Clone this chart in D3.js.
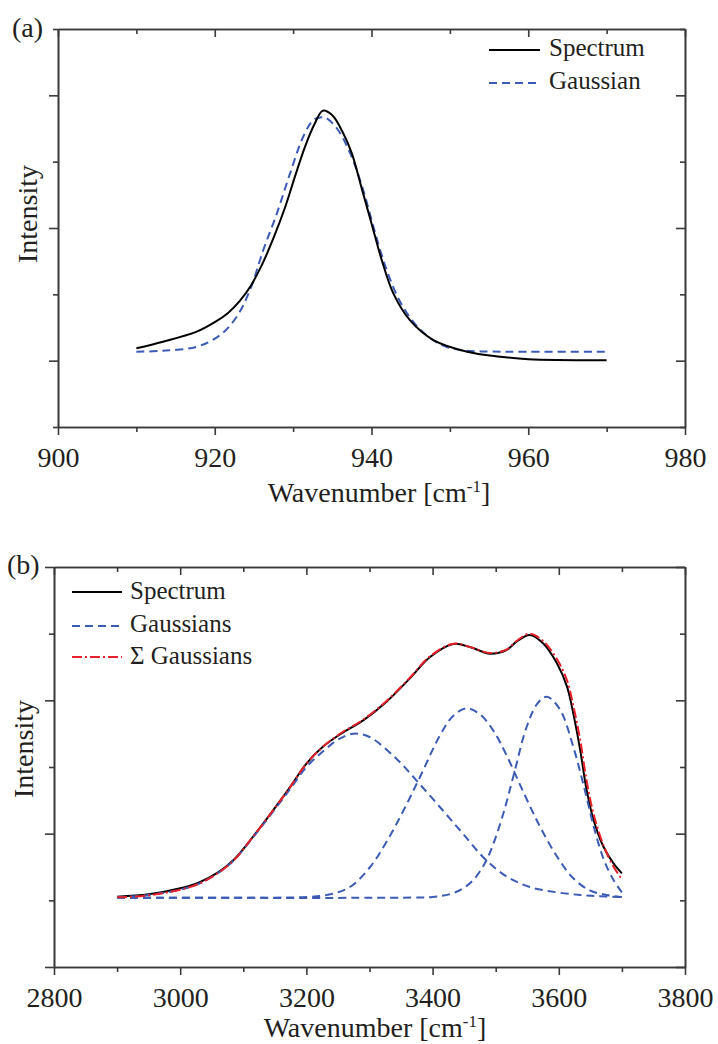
<!DOCTYPE html>
<html><head><meta charset="utf-8">
<script src="https://cdn.jsdelivr.net/npm/d3@7"></script>
<style>html,body{margin:0;padding:0;background:#fff;}svg{display:block;} svg text{font-family:"Liberation Serif","Times New Roman",Times,serif !important;}</style>
</head><body>
<svg id="chart" width="718" height="1044"></svg>
<script>
// ---------- Panel (a) data ----------
const aSpecX = [910, 913.4, 917.7, 920.0, 921.7, 923.2, 924.6, 926.0, 927.5, 929.0, 930.3, 931.5, 932.7, 933.8, 935.0, 936.3, 937.5, 938.7, 940.0, 941.3, 942.8, 944.9, 947.9, 952.2, 956.4, 960, 970];
const aSpecY = [1.187, 1.286, 1.437, 1.58, 1.72, 1.90, 2.13, 2.44, 2.85, 3.32, 3.80, 4.22, 4.56, 4.77, 4.70, 4.45, 4.12, 3.62, 3.07, 2.52, 2.01, 1.61, 1.31, 1.135, 1.06, 1.02, 1.005];
const aGaussX = [910, 913.4, 917.7, 920.7, 922.8, 924.5, 926.2, 927.9, 929.6, 931.3, 932.6, 933.6, 934.2, 935.6, 937.3, 939.0, 940.4, 941.9, 943.6, 945.8, 948.7, 951.3, 954, 960, 970];
const aGaussY = [1.135, 1.15, 1.21, 1.387, 1.663, 2.065, 2.67, 3.21, 3.82, 4.38, 4.63, 4.67, 4.66, 4.50, 4.12, 3.55, 2.95, 2.38, 1.90, 1.52, 1.25, 1.16, 1.14, 1.135, 1.135];
const aXMajor = [900, 920, 940, 960, 980];
const aXMinor = [910, 930, 950, 970];
const aYMajor = [1, 3, 5];
const aYMinor = [0, 2, 4, 6];

// ---------- Panel (b) data ----------
const bSpecX = [2900, 2950, 3000, 3030, 3060, 3085, 3115, 3148, 3175, 3200, 3227, 3255, 3290, 3327, 3364, 3396, 3433, 3459, 3491, 3517, 3533, 3554, 3575, 3597, 3613, 3623, 3634, 3644, 3655, 3671, 3687, 3700];
const bSpecY = [1.055, 1.09, 1.18, 1.27, 1.42, 1.61, 1.95, 2.36, 2.71, 3.05, 3.31, 3.50, 3.70, 3.98, 4.33, 4.65, 4.845, 4.80, 4.70, 4.755, 4.88, 4.98, 4.855, 4.555, 4.205, 3.80, 3.25, 2.66, 2.21, 1.80, 1.55, 1.405];
const bSumX = [2900, 2950, 3000, 3030, 3060, 3085, 3115, 3148, 3175, 3200, 3227, 3255, 3290, 3327, 3364, 3396, 3433, 3459, 3491, 3517, 3533, 3554, 3575, 3597, 3613, 3623, 3634, 3644, 3655, 3671, 3687, 3700];
const bSumY = [1.045, 1.075, 1.16, 1.25, 1.41, 1.60, 1.95, 2.36, 2.71, 3.05, 3.31, 3.51, 3.71, 3.99, 4.34, 4.66, 4.85, 4.80, 4.71, 4.76, 4.89, 5.00, 4.89, 4.62, 4.30, 3.92, 3.40, 2.80, 2.30, 1.82, 1.50, 1.315];
const bG1X = [2900, 2950, 3000, 3030, 3060, 3085, 3115, 3148, 3175, 3200, 3227, 3250, 3274, 3300, 3343, 3378, 3417, 3449, 3483, 3517, 3554, 3597, 3634, 3665, 3700];
const bG1Y = [1.045, 1.08, 1.16, 1.25, 1.41, 1.60, 1.94, 2.34, 2.68, 3.00, 3.24, 3.41, 3.50, 3.45, 3.12, 2.76, 2.34, 1.99, 1.62, 1.36, 1.20, 1.12, 1.08, 1.06, 1.05];
const bG2X = [2900, 3150, 3200, 3238, 3269, 3301, 3327, 3354, 3380, 3412, 3433, 3454, 3475, 3496, 3517, 3544, 3570, 3597, 3623, 3649, 3676, 3700];
const bG2Y = [1.04, 1.04, 1.05, 1.09, 1.20, 1.50, 1.88, 2.35, 2.85, 3.48, 3.77, 3.88, 3.79, 3.55, 3.18, 2.62, 2.11, 1.66, 1.33, 1.15, 1.08, 1.05];
const bG3X = [2900, 3350, 3400, 3430, 3450, 3466, 3483, 3496, 3512, 3528, 3549, 3566, 3581, 3602, 3623, 3640, 3655, 3671, 3687, 3700];
const bG3Y = [1.04, 1.04, 1.05, 1.10, 1.19, 1.32, 1.56, 1.84, 2.30, 2.86, 3.60, 3.95, 4.055, 3.86, 3.30, 2.70, 2.12, 1.62, 1.30, 1.12];
const bXMajor = [2800, 3000, 3200, 3400, 3600, 3800];
const bXMinor = [2900, 3100, 3300, 3500, 3700];
const bYMajor = [0, 2, 4, 6];
const bYMinor = [1, 3, 5];

// ---------- styles ----------
const FONT = "Liberation Serif, Times New Roman, serif";
const TXT = "#231f20";
const AX = "#3a3a3a";
const BLUE = "#3b5bb5";
const RED = "#e8202a";

const svg = d3.select("#chart");
svg.append("rect").attr("width", 718).attr("height", 1044).attr("fill", "#fff");

function zip(xs, ys) { return xs.map((x, i) => [x, ys[i]]); }

function panel(cfg) {
  const x = d3.scaleLinear().domain(cfg.xDomain).range([cfg.left, cfg.right]);
  const y = d3.scaleLinear().domain([0, 6]).range([cfg.bottom, cfg.top]);
  const g = svg.append("g");

  function styleAxis(sel) {
    sel.attr("font-family", null).attr("font-size", null);
    sel.selectAll("path").attr("stroke", AX).attr("stroke-width", 1.6);
    sel.selectAll("line").attr("stroke", AX).attr("stroke-width", 1.6);
    sel.selectAll("text").style("font-family", FONT).attr("font-size", 28).attr("fill", TXT);
  }
  g.append("g").attr("transform", `translate(0,${cfg.bottom})`)
    .call(d3.axisBottom(x).tickValues(cfg.xMajor).tickSize(8).tickSizeOuter(0).tickPadding(12).tickFormat(d3.format("d")))
    .call(styleAxis);
  g.append("g").attr("transform", `translate(0,${cfg.bottom})`)
    .call(d3.axisBottom(x).tickValues(cfg.xMinor).tickSize(5).tickSizeOuter(0).tickFormat(""))
    .call(styleAxis);
  g.append("g").attr("transform", `translate(0,${cfg.top})`)
    .call(d3.axisTop(x).tickValues(cfg.xMajor).tickSize(-8).tickSizeOuter(0).tickFormat(""))
    .call(styleAxis);
  g.append("g").attr("transform", `translate(0,${cfg.top})`)
    .call(d3.axisTop(x).tickValues(cfg.xMinor).tickSize(-5).tickSizeOuter(0).tickFormat(""))
    .call(styleAxis);
  g.append("g").attr("transform", `translate(${cfg.left},0)`)
    .call(d3.axisLeft(y).tickValues(cfg.yMajor).tickSize(9).tickSizeOuter(0).tickFormat(""))
    .call(styleAxis);
  g.append("g").attr("transform", `translate(${cfg.left},0)`)
    .call(d3.axisLeft(y).tickValues(cfg.yMinor).tickSize(5).tickSizeOuter(0).tickFormat(""))
    .call(styleAxis);
  g.append("g").attr("transform", `translate(${cfg.right},0)`)
    .call(d3.axisRight(y).tickValues(cfg.yMajor).tickSize(-9).tickSizeOuter(0).tickFormat(""))
    .call(styleAxis);
  g.append("g").attr("transform", `translate(${cfg.right},0)`)
    .call(d3.axisRight(y).tickValues(cfg.yMinor).tickSize(-5).tickSizeOuter(0).tickFormat(""))
    .call(styleAxis);

  const line = d3.line().x(d => x(d[0])).y(d => y(d[1])).curve(d3.curveCatmullRom.alpha(0.5));
  cfg.series.forEach(s => {
    g.append("path").datum(zip(s.xs, s.ys))
      .attr("d", line).attr("fill", "none")
      .attr("stroke", s.color).attr("stroke-width", s.width)
      .attr("stroke-dasharray", s.dash || null)
      .attr("stroke-linejoin", "round");
  });

  const xt = g.append("text").attr("x", cfg.xTitleX).attr("y", cfg.xTitleY)
    .attr("text-anchor", "middle").style("font-family", FONT).attr("font-size", 28).attr("fill", TXT);
  xt.append("tspan").text("Wavenumber [cm");
  xt.append("tspan").attr("font-size", 17).attr("dy", -10).text("-1");
  xt.append("tspan").attr("dy", 10).text("]");

  g.append("text").attr("transform", `translate(${cfg.yTitleX},${cfg.yTitleY}) rotate(-90)`)
    .attr("text-anchor", "middle").style("font-family", FONT).attr("font-size", 28).attr("fill", TXT)
    .text("Intensity");

  g.append("text").attr("x", cfg.labelX).attr("y", cfg.labelY)
    .style("font-family", FONT).attr("font-size", 28).attr("fill", TXT).text(cfg.label);

  cfg.legend.forEach(l => {
    g.append("line").attr("x1", l.x1).attr("x2", l.x2).attr("y1", l.ly).attr("y2", l.ly)
      .attr("stroke", l.color).attr("stroke-width", 2).attr("stroke-dasharray", l.dash || null);
    g.append("text").attr("x", l.tx).attr("y", l.ty).style("font-family", FONT).attr("font-size", 25)
      .attr("fill", TXT).text(l.text);
  });
}

panel({
  xDomain: [900, 980], left: 58, right: 685, top: 29, bottom: 427,
  xMajor: aXMajor, xMinor: aXMinor, yMajor: aYMajor, yMinor: aYMinor,
  series: [
    { xs: aGaussX, ys: aGaussY, color: BLUE, width: 2, dash: "8,5" },
    { xs: aSpecX, ys: aSpecY, color: "#000", width: 2 }
  ],
  xTitleX: 379, xTitleY: 502, yTitleX: 37, yTitleY: 214,
  label: "(a)", labelX: 12, labelY: 37,
  legend: [
    { x1: 489, x2: 540, ly: 50, tx: 549, ty: 56, color: "#000", text: "Spectrum" },
    { x1: 489, x2: 540, ly: 83, tx: 549, ty: 89, color: BLUE, dash: "8,5", text: "Gaussian" }
  ]
});

panel({
  xDomain: [2800, 3800], left: 54, right: 685, top: 567, bottom: 967,
  xMajor: bXMajor, xMinor: bXMinor, yMajor: bYMajor, yMinor: bYMinor,
  series: [
    { xs: bSpecX, ys: bSpecY, color: "#000", width: 2 },
    { xs: bG1X, ys: bG1Y, color: BLUE, width: 2, dash: "8,5" },
    { xs: bG2X, ys: bG2Y, color: BLUE, width: 2, dash: "8,5" },
    { xs: bG3X, ys: bG3Y, color: BLUE, width: 2, dash: "8,5" },
    { xs: bSumX, ys: bSumY, color: RED, width: 2, dash: "10,3,2,3" }
  ],
  xTitleX: 375, xTitleY: 1037, yTitleX: 33, yTitleY: 749,
  label: "(b)", labelX: 7, labelY: 574,
  legend: [
    { x1: 72, x2: 122, ly: 592, tx: 130, ty: 599, color: "#000", text: "Spectrum" },
    { x1: 72, x2: 122, ly: 626, tx: 130, ty: 632, color: BLUE, dash: "8,5", text: "Gaussians" },
    { x1: 72, x2: 122, ly: 657, tx: 130, ty: 664, color: RED, dash: "10,3,2,3", text: "Σ Gaussians" }
  ]
});
</script>
</body></html>
